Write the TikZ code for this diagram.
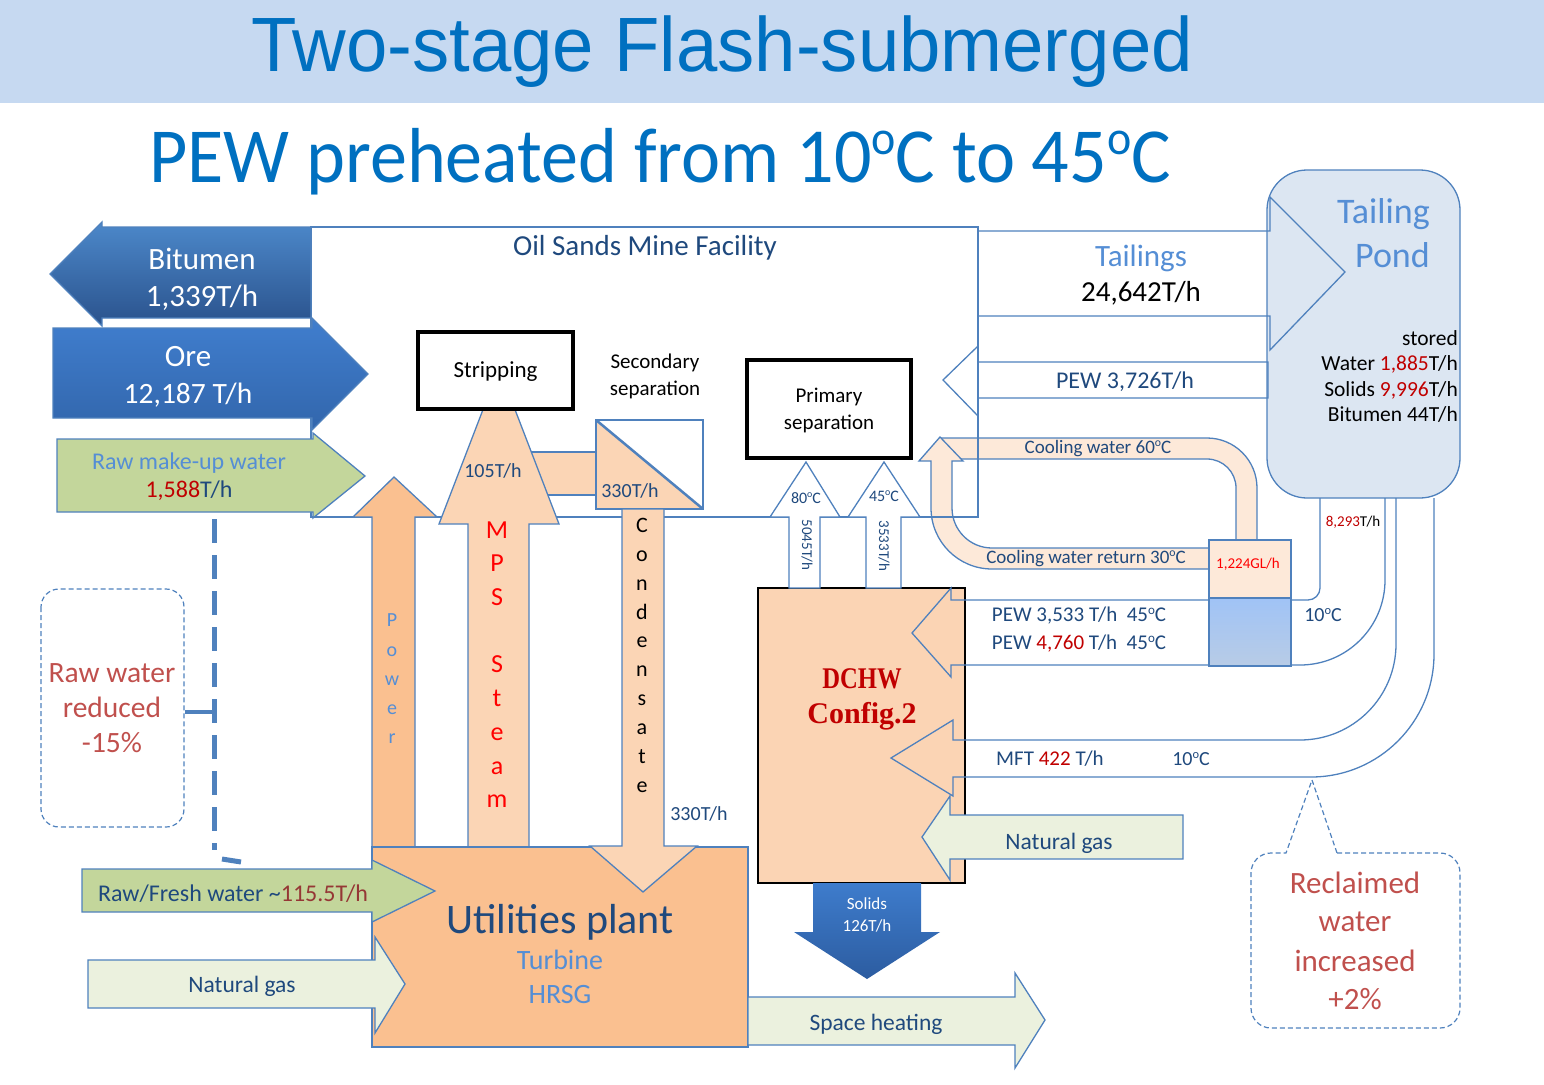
\documentclass[tikz,border=0pt]{standalone}
\usepackage{fontspec}
\setmainfont{Carlito}
\newfontfamily\arialfont{Liberation Sans}
\newfontfamily\timesfont{Liberation Serif}
\newcommand\fsz[1]{\fontsize{#1}{#1}\selectfont}
\newcommand\dgo{\raisebox{0.36em}{\scalebox{0.62}{o}}}
\definecolor{banner}{RGB}{198,217,241}
\definecolor{titleblue}{RGB}{0,112,192}
\definecolor{lblue}{RGB}{79,129,189}
\definecolor{dblue}{RGB}{31,73,125}
\definecolor{mblue}{RGB}{85,142,213}
\definecolor{dred}{RGB}{192,0,0}
\definecolor{bred}{RGB}{255,0,0}
\definecolor{cred}{RGB}{192,80,77}
\definecolor{brownred}{RGB}{149,55,53}
\definecolor{peachl}{RGB}{251,213,181}
\definecolor{peachd}{RGB}{250,192,144}
\definecolor{dchwfill}{RGB}{251,212,180}
\definecolor{greenf}{RGB}{195,214,155}
\definecolor{lgreen}{RGB}{235,241,222}
\definecolor{pondf}{RGB}{220,230,242}
\definecolor{coolf}{RGB}{253,233,217}
\definecolor{bitT}{RGB}{76,136,202}
\definecolor{bitB}{RGB}{42,82,140}
\definecolor{oreT}{RGB}{64,126,206}
\definecolor{oreB}{RGB}{50,102,172}
\definecolor{solT}{RGB}{62,124,204}
\definecolor{solB}{RGB}{44,92,160}
\definecolor{boxT}{RGB}{160,195,246}
\definecolor{boxB}{RGB}{184,204,230}
\begin{document}
\begin{tikzpicture}[x=1pt,y=-1pt,
  lb/.style={draw=lblue, line width=1.3pt},
  lbl/.style={inner sep=0pt, font=\fsz{#1}, text height=0.64*#1pt, text depth=0pt},
  blackbox/.style={draw=black, line width=4pt, fill=white},
  dashc/.style={draw=lblue, line width=1.2pt, dash pattern=on 5pt off 3pt},
]
\useasboundingbox (0,0) rectangle (1544,1084);
\fill[banner] (0,0) rectangle (1544,103);

% facility
\draw[lb] (311,227) rectangle (978,517);

% MPS band and arrow
\filldraw[lb, fill=peachl] (525,452) rectangle (597,495);
\filldraw[lb, fill=peachl] (468,847) -- (468,524) -- (439,524) -- (499,368) -- (559,524) -- (529,524) -- (529,847) -- cycle;

% boxes
\node[blackbox, lbl=23, minimum width=155pt, minimum height=77pt] (strip) at (495.5,370) {Stripping};
\node[blackbox, minimum width=164pt, minimum height=98pt] (prim) at (829,409) {};

% secondary separation box
\fill[white] (596,420) rectangle (703,509);
\fill[peachl] (596,420) -- (703,509) -- (596,509) -- cycle;
\draw[lb] (596,420) rectangle (703,509);
\draw[lblue, line width=2.5pt] (596,420) -- (703,509);

% power
\filldraw[lb, fill=peachd] (372,847) -- (372,517) -- (353,517) -- (394,477) -- (437,517) -- (415,517) -- (415,847) -- cycle;

% utilities
\filldraw[lb, fill=peachd] (372,847) rectangle (748,1047);
% condensate
\filldraw[lb, fill=peachl] (622,509) -- (664,509) -- (664,846) -- (697,846) -- (643,892) -- (590,846) -- (622,846) -- cycle;

% left arrows
\shade[top color=bitT, bottom color=bitB, draw=lblue, line width=1.3pt] (311,227) -- (102,227) -- (102,222) -- (50,274) -- (102,326) -- (102,318) -- (311,318) -- cycle;
\shade[top color=oreT, bottom color=oreB, draw=lblue, line width=1.3pt] (53,328) -- (312,328) -- (312,318) -- (368,374) -- (312,430) -- (312,418) -- (53,418) -- cycle;
\filldraw[lb, fill=greenf] (57,439) -- (313,439) -- (313,433) -- (365,476) -- (313,518) -- (313,512) -- (57,512) -- cycle;
\filldraw[lb, fill=greenf] (82,869) -- (372,869) -- (372,860) -- (435,891) -- (372,922) -- (372,912) -- (82,912) -- cycle;
\filldraw[lb, fill=lgreen] (88,960) -- (375,960) -- (375,937) -- (405,984) -- (375,1033) -- (375,1008) -- (88,1008) -- cycle;
\filldraw[lb, fill=lgreen] (748,997) -- (1015,997) -- (1015,973) -- (1045,1020) -- (1015,1068) -- (1015,1045) -- (748,1045) -- cycle;

% DCHW
\filldraw[draw=black, line width=1.5pt, fill=dchwfill] (758,588) rectangle (965,883);

% up arrows to primary separation
\filldraw[lb, fill=white] (789,588) -- (789,517) -- (770,517) -- (806,462) -- (840,517) -- (820,517) -- (820,588) -- cycle;
\filldraw[lb, fill=white] (866,588) -- (866,517) -- (848,517) -- (884,462) -- (920,517) -- (901,517) -- (901,588) -- cycle;

% tailing pond
\filldraw[lb, fill=pondf, rounded corners=40pt] (1267,170) rectangle (1460,498);
\draw[lb] (978,231) -- (1270,231) -- (1270,197) -- (1345,272) -- (1270,350) -- (1270,316) -- (978,316);
\draw[lb] (1268,362) -- (978,362) -- (978,346) -- (943,380) -- (978,416) -- (978,398) -- (1268,398) -- cycle;

% cooling water loop
\fill[coolf] (941,438) -- (1207,438) arc[start angle=-90,end angle=0,radius=50] -- (1257,540) -- (1236,540) -- (1236,488) arc[start angle=0,end angle=-90,radius=29] -- (941,459) -- cycle;
\draw[lb] (941,438) -- (1207,438) arc[start angle=-90,end angle=0,radius=50] -- (1257,540);
\draw[lb] (1236,540) -- (1236,488) arc[start angle=0,end angle=-90,radius=29] -- (950,459);
\filldraw[lb, fill=coolf] (940,437) -- (963,461) -- (952,461) -- (952,508) arc[start angle=180,end angle=90,radius=40] -- (1209,548) -- (1209,569) -- (992,569) arc[start angle=90,end angle=180,radius=61] -- (931,461) -- (919,461) -- cycle;
\draw[lb] (978,425) -- (978,517) -- (925,517);
\filldraw[lb, fill=coolf] (1209,540) rectangle (1291,598);

% PEW and MFT pipes
\draw[lb] (1320,498) -- (1320,588) arc[start angle=0,end angle=90,radius=12] -- (951,600) -- (951,588) -- (912,633) -- (951,677) -- (951,665) -- (1300,665) arc[start angle=90,end angle=0,radius=85] -- (1385,498);
\draw[lb] (1396,498) -- (1396,644) arc[start angle=0,end angle=90,radius=96] -- (953,740) -- (953,720) -- (891,758) -- (953,796) -- (953,777) -- (1311,777) arc[start angle=90,end angle=0,radius=123] -- (1434,498);
\shade[top color=boxT, bottom color=boxB, draw=lblue, line width=2pt] (1209,598) rectangle (1291,666);

% natural gas right, solids
\filldraw[lb, fill=lgreen] (1183,815) -- (950,815) -- (950,796) -- (922,837) -- (950,880) -- (950,859) -- (1183,859) -- cycle;
\shade[top color=solT, bottom color=solB] (813,883) -- (921,883) -- (921,932) -- (940,932) -- (867,979) -- (794,932) -- (813,932) -- cycle;

% callouts
\draw[dashc, rounded corners=18pt] (41,589) rectangle (184,827);
\draw[dashc] (1337,853) -- (1440,853) arc[start angle=-90,end angle=0,radius=20] -- (1460,1008) arc[start angle=0,end angle=90,radius=20] -- (1271,1028) arc[start angle=90,end angle=180,radius=20] -- (1251,873) arc[start angle=180,end angle=270,radius=20] -- (1286,853) -- (1312,780) -- cycle;
\coordinate (dtop) at (214,519);
\coordinate (dmid) at (214,850);
\coordinate (dend0) at (222,859);
\coordinate (dend1) at (241,862);
\draw[lblue, line width=5pt, dash pattern=on 24pt off 12pt] (dtop) -- (dmid);
\draw[lblue, line width=5pt] (dend0) -- (dend1);
\draw[lblue, line width=4pt] (185,712) -- (214,712);

% ---------- texts ----------
\node[lbl=77, font=\arialfont\fsz{77}, text=titleblue] (title) at (722,47) {\scalebox{0.965}[1]{Two-stage Flash-submerged}};
\node[lbl=78, text=titleblue] (subtitle) at (660,158) {\scalebox{0.95}[1]{PEW preheated from 10\dgo C to 45\dgo C}};
\node[lbl=29, text=dblue] (facl) at (645,246) {Oil Sands Mine Facility};
\node[lbl=31, text=white] (bitA) at (202,260) {Bitumen};
\node[lbl=31, text=white] (bitB) at (202,297) {1,339T/h};
\node[lbl=31, text=white] (oreA) at (188,357) {Ore};
\node[lbl=29.5, text=white] (oreB) at (188,394) {12,187 T/h};
\node[lbl=24, text=mblue] (rawA) at (189,462) {Raw make-up water};
\node[lbl=24, text=dblue] (rawB) at (189,490) {\textcolor{dred}{1,588}T/h};
\node[lbl=21, font=\fsz{21}] (secA) at (655,362) {Secondary};
\node[lbl=21] (secB) at (655,389) {separation};
\node[lbl=21] (primA) at (829,396) {Primary};
\node[lbl=21] (primB) at (829,423) {separation};
\node[lbl=20, text=dblue] (f105) at (493,471) {105T/h};
\node[lbl=20, text=dblue] (f330a) at (630,491) {330T/h};
\node[lbl=16, text=dblue] (t80) at (806,498) {80\dgo C};
\node[lbl=16, text=dblue] (t45) at (884,496) {45\dgo C};
\node[lbl=15, text=dblue, rotate=-90] (f5045) at (807,545) {5045T/h};
\node[lbl=15, text=dblue, rotate=-90] (f3533) at (884,546) {3533T/h};
\foreach \c/\yy [count=\i] in {M/530,P/563,S/597,S/664,t/698,e/732,a/766,m/799}
  \node[lbl=26, text=bred] (mps\i) at (497,\yy) {\c};
\foreach \c/\yy [count=\i] in {P/620,o/650,w/679,e/708,r/737}
  \node[lbl=20, text=mblue] (pow\i) at (392,\yy) {\c};
\foreach \c/\yy [count=\i] in {C/525,o/554,n/583,d/612,e/640,n/669,s/698,a/727,t/756,e/785}
  \node[lbl=22] (cond\i) at (642,\yy) {\c};
\node[lbl=20, text=dblue] (f330b) at (699,814) {330T/h};
\node[lbl=42, text=dblue] (utilA) at (560,920) {Utilities plant};
\node[lbl=28, text=mblue] (utilB) at (560,961) {Turbine};
\node[lbl=28, text=mblue] (utilC) at (560,995) {HRSG};
\node[lbl=24, text=dblue] (rawfresh) at (233,894) {Raw/Fresh water \textasciitilde\textcolor{brownred}{115.5T/h}};
\node[lbl=23.5, text=dblue] (ngL) at (242,985) {Natural gas};
\node[lbl=23.5, text=dblue] (space) at (876,1023) {Space heating};
\node[lbl=23.5, text=dblue] (ngR) at (1059,842) {Natural gas};
\node[lbl=17, text=white] (solA) at (867,904) {Solids};
\node[lbl=17, text=white] (solB) at (867,926) {126T/h};
\node[lbl=30, font=\timesfont\bfseries\fsz{30}, text=dred] (dchwA) at (862,679) {\scalebox{0.82}[1]{DCHW}};
\node[lbl=30, font=\timesfont\bfseries\fsz{30}, text=dred] (dchwB) at (862,714) {Config.2};
\node[lbl=31, text=mblue] (tailA) at (1141,257) {Tailings};
\node[lbl=29] (tailB) at (1141,292) {24,642T/h};
\node[lbl=24, text=dblue] (pew3726) at (1125,381) {PEW 3,726T/h};
\node[lbl=36, text=mblue, anchor=east] (pondA) at (1430,212) {Tailing};
\node[lbl=36, text=mblue, anchor=east] (pondB) at (1430,256) {Pond};
\node[lbl=21.5, anchor=east] (stA) at (1458,339) {stored};
\node[lbl=21.5, anchor=east] (stB) at (1458,364) {Water \textcolor{dred}{1,885}T/h};
\node[lbl=21.5, anchor=east] (stC) at (1458,390) {Solids \textcolor{dred}{9,996}T/h};
\node[lbl=21.5, anchor=east] (stD) at (1458,415) {Bitumen 44T/h};
\node[lbl=19, text=dblue] (cw60) at (1098,447) {Cooling water 60\dgo C};
\node[lbl=19, text=dblue] (cw30) at (1086,557) {Cooling water return 30\dgo C};
\node[lbl=15, text=bred] (gl) at (1248,564) {1,224GL/h};
\node[lbl=15] (f8293) at (1353,522) {\textcolor{dred}{8,293}T/h};
\node[lbl=21, text=dblue] (pewA) at (1079,615) {PEW 3,533 T/h\ \ 45\dgo C};
\node[lbl=21, text=dblue] (pewB) at (1079,643) {PEW \textcolor{dred}{4,760} T/h\ \ 45\dgo C};
\node[lbl=20, text=dblue] (t10a) at (1323,615) {10\dgo C};
\node[lbl=21, text=dblue] (mft) at (1050,759) {MFT \textcolor{dred}{422} T/h};
\node[lbl=20, text=dblue] (t10b) at (1191,759) {10\dgo C};
\node[lbl=29.5, text=cred] (rwA) at (112,673) {Raw water};
\node[lbl=29.5, text=cred] (rwB) at (112,708) {reduced};
\node[lbl=29.5, text=cred] (rwC) at (112,743) {-15\%};
\node[lbl=31, text=cred] (rcA) at (1355,884) {Reclaimed};
\node[lbl=31, text=cred] (rcB) at (1355,922) {water};
\node[lbl=31, text=cred] (rcC) at (1355,962) {increased};
\node[lbl=31, text=cred] (rcD) at (1355,1000) {+2\%};
\end{tikzpicture}
\end{document}
